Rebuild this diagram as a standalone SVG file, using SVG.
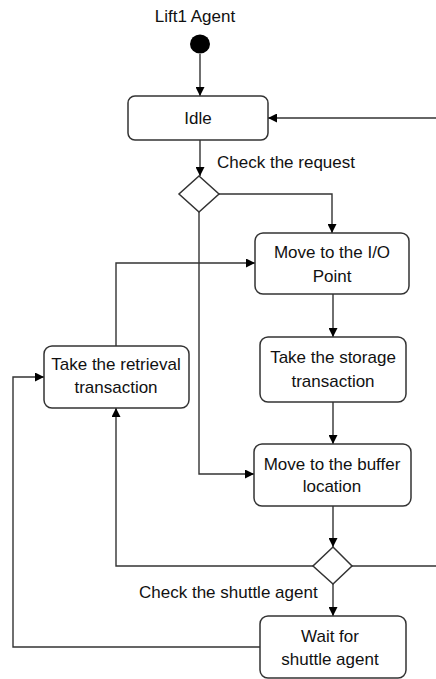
<svg xmlns="http://www.w3.org/2000/svg" width="436" height="679" viewBox="0 0 436 679">
<defs>
<marker id="arr" markerUnits="userSpaceOnUse" markerWidth="9" markerHeight="9" viewBox="0 0 10 10" refX="10" refY="5" orient="auto">
<path d="M0,0 L10,5 L0,10 z" fill="#000"/>
</marker>
<style>
.box{fill:#fff;stroke:#333;stroke-width:1.5}
.dia{fill:#fff;stroke:#333;stroke-width:1.5}
.c{fill:none;stroke:#333;stroke-width:1.4;marker-end:url(#arr)}
.cn{fill:none;stroke:#333;stroke-width:1.4}
text{font-family:"Liberation Sans",Arial,sans-serif;font-size:17px;fill:#111}
.m{text-anchor:middle}
</style>
</defs>
<rect width="436" height="679" fill="#fff"/>
<g id="connectors">
<path class="c" d="M200,54 L200,96"/>
<path class="c" d="M436,118 L268,118"/>
<path class="c" d="M200,140 L200,176"/>
<path class="c" d="M219,194 L332,194 L332,233"/>
<path class="c" d="M199,212 L199,474 L254,474"/>
<path class="c" d="M116,346 L116,263 L255,263"/>
<path class="c" d="M333,294 L333,337"/>
<path class="c" d="M333,402 L333,444"/>
<path class="c" d="M333,506 L333,547"/>
<path class="c" d="M313,566 L116,566 L116,408"/>
<path class="cn" d="M352,566 L436,566"/>
<path class="c" d="M333,584 L333,616"/>
<path class="c" d="M260,647 L13,647 L13,377 L44,377"/>
</g>
<g id="start">
<text class="m" x="195" y="22">Lift1 Agent</text>
<ellipse cx="200" cy="44" rx="10" ry="9.5" fill="#000"/>
</g>
<g id="idle">
<rect class="box" x="128" y="96" width="140" height="44" rx="7"/>
<text class="m" x="198" y="124">Idle</text>
</g>
<g id="check-request">
<path class="dia" d="M199,176 L219,194 L199,212 L179,194 z"/>
<text x="217" y="168">Check the request</text>
</g>
<g id="move-io">
<rect class="box" x="255" y="233" width="154" height="61" rx="8"/>
<text class="m" x="332" y="258">Move to the I/O</text>
<text class="m" x="332" y="282">Point</text>
</g>
<g id="take-storage">
<rect class="box" x="260" y="337" width="146" height="65" rx="8"/>
<text class="m" x="333" y="363">Take the storage</text>
<text class="m" x="333" y="387">transaction</text>
</g>
<g id="take-retrieval">
<rect class="box" x="44" y="346" width="145" height="62" rx="8"/>
<text class="m" x="116" y="370">Take the retrieval</text>
<text class="m" x="116" y="393">transaction</text>
</g>
<g id="move-buffer">
<rect class="box" x="254" y="444" width="157" height="62" rx="8"/>
<text class="m" x="332" y="470">Move to the buffer</text>
<text class="m" x="332" y="492">location</text>
</g>
<g id="check-shuttle">
<path class="dia" d="M333,547 L352,566 L333,584 L313,566 z"/>
<text x="139" y="598">Check the shuttle agent</text>
</g>
<g id="wait">
<rect class="box" x="260" y="616" width="146" height="62" rx="8"/>
<text class="m" x="330" y="642">Wait for</text>
<text class="m" x="330" y="665">shuttle agent</text>
</g>
</svg>
